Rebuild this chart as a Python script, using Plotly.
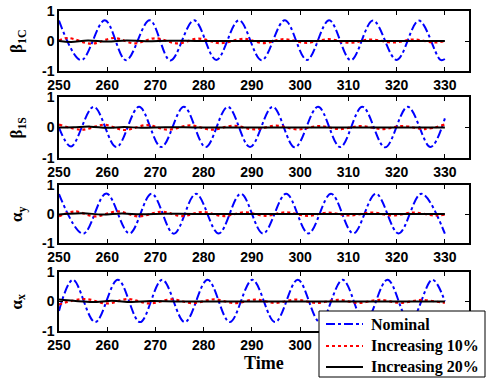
import plotly.graph_objects as go
from plotly.subplots import make_subplots

# ---------------- data ----------------
x_ticks = [250, 260, 270, 280, 290, 300, 310, 320, 330]
y_ticks = [-1, 0, 1]
series_names = ["Nominal", "Increasing 10%", "Increasing 20%"]
panel_labels = ["<b>β<sub>1C</sub></b>", "<b>β<sub>1S</sub></b>",
                "<b>α<sub>y</sub></b>", "<b>α<sub>x</sub></b>"]

# Panel 1: beta_1C
b1c_nom_t = [250, 254.6, 259.5, 263.9, 268.8, 273.1, 278.0, 282.6, 287.3, 292.0, 296.8,
             301.4, 306.0, 310.5, 315.1, 320.0, 324.6, 329.1, 330]
b1c_nom_v = [0.68, -0.64, 0.69, -0.64, 0.69, -0.65, 0.69, -0.63, 0.69, -0.64, 0.69,
             -0.63, 0.69, -0.64, 0.68, -0.63, 0.68, -0.63, -0.6]
b1c_r10_t = [250, 251.9, 256.7, 261.4, 265.7, 269.9, 274.6, 278.9, 283.4, 288.4, 292.3,
             296.6, 301.3, 305.9, 310.3, 314.6, 319.4, 323.6, 327.8, 330]
b1c_r10_v = [0.02, 0.1, -0.09, 0.1, -0.08, 0.09, -0.08, 0.08, -0.07, 0.07, -0.07,
             0.06, -0.06, 0.06, -0.06, 0.05, -0.05, 0.05, -0.05, 0.0]
b1c_r20_t = [250, 252.5, 256, 260, 264, 268, 273, 280, 330]
b1c_r20_v = [0.0, -0.03, 0.02, -0.02, 0.02, -0.01, 0.01, 0.0, 0.0]

# Panel 2: beta_1S
b1s_nom_t = [250, 252.5, 257.2, 261.9, 266.6, 271.2, 275.9, 280.4, 285.0, 289.6, 294.3,
             298.9, 303.7, 308.3, 312.9, 317.6, 322.3, 327.0, 330]
b1s_nom_v = [0.0, -0.62, 0.68, -0.64, 0.68, -0.64, 0.68, -0.64, 0.68, -0.64, 0.68,
             -0.65, 0.68, -0.64, 0.68, -0.65, 0.68, -0.64, 0.3]
b1s_r10_t = [250, 254.8, 259.3, 263.6, 268.2, 272.6, 277.2, 281.6, 286.2, 290.5, 295.0,
             299.5, 303.9, 308.2, 312.6, 317.0, 321.3, 325.8, 330]
b1s_r10_v = [0.1, -0.07, 0.09, -0.08, 0.08, -0.07, 0.07, -0.07, 0.06, -0.06, 0.06,
             -0.06, 0.05, -0.05, 0.05, -0.05, 0.05, -0.05, 0.1]
b1s_r20_t = [250, 253, 256.5, 260, 263.5, 267, 272, 280, 330]
b1s_r20_v = [0.0, 0.01, 0.03, -0.01, 0.02, -0.01, 0.01, 0.0, 0.0]

# Panel 3: alpha_y
ay_nom_t = [250, 255.0, 259.8, 264.6, 269.2, 273.8, 278.4, 283.1, 287.7, 292.3, 297.1,
            301.7, 306.4, 311.0, 315.7, 320.4, 325.1, 330]
ay_nom_v = [0.69, -0.68, 0.71, -0.67, 0.70, -0.68, 0.70, -0.67, 0.70, -0.67, 0.70,
            -0.67, 0.70, -0.67, 0.70, -0.67, 0.70, -0.68]
ay_r10_t = [250, 253.3, 257.4, 262.2, 266.4, 271.3, 275.5, 279.7, 284.2, 288.5, 292.8,
            297.0, 301.5, 305.8, 310.2, 314.8, 319.2, 323.5, 328.0, 330]
ay_r10_v = [-0.08, 0.09, -0.08, 0.09, -0.08, 0.08, -0.07, 0.07, -0.07, 0.06, -0.06,
            0.06, -0.06, 0.05, -0.05, 0.05, -0.05, 0.05, -0.05, -0.02]
ay_r20_t = [250, 252, 255, 259, 263, 267, 272, 278, 330]
ay_r20_v = [-0.02, 0.01, 0.03, -0.02, 0.02, -0.01, 0.01, 0.0, 0.0]

# Panel 4: alpha_x
ax_nom_t = [250, 252.9, 257.5, 262.2, 266.8, 271.4, 276.1, 280.8, 285.4, 290.1, 294.8,
            299.5, 304.1, 308.8, 313.4, 318.1, 322.7, 327.4, 330]
ax_nom_v = [-0.32, 0.73, -0.70, 0.73, -0.70, 0.73, -0.70, 0.73, -0.70, 0.73, -0.70,
            0.73, -0.70, 0.73, -0.70, 0.73, -0.70, 0.73, 0.0]
ax_r10_t = [250, 255.3, 260.0, 264.3, 268.7, 273.4, 277.7, 282.2, 286.4, 290.6, 294.8,
            299.0, 303.4, 307.8, 312.1, 316.5, 320.8, 325.2, 329.5, 330]
ax_r10_v = [-0.1, 0.08, -0.07, 0.08, -0.07, 0.07, -0.06, 0.07, -0.06, 0.06, -0.05,
            0.06, -0.05, 0.05, -0.05, 0.05, -0.05, 0.05, -0.04, -0.04]
ax_r20_t = [250, 253, 257, 261, 265, 269, 274, 280, 330]
ax_r20_v = [0.06, 0.02, -0.02, 0.02, -0.02, 0.01, 0.0, 0.0, 0.0]

panels = [
    [(b1c_nom_t, b1c_nom_v), (b1c_r10_t, b1c_r10_v), (b1c_r20_t, b1c_r20_v)],
    [(b1s_nom_t, b1s_nom_v), (b1s_r10_t, b1s_r10_v), (b1s_r20_t, b1s_r20_v)],
    [(ay_nom_t, ay_nom_v), (ay_r10_t, ay_r10_v), (ay_r20_t, ay_r20_v)],
    [(ax_nom_t, ax_nom_v), (ax_r10_t, ax_r10_v), (ax_r20_t, ax_r20_v)],
]

# ---------------- styling ----------------
styles = [dict(color="#0000FF", dash="dashdot", width=2),
          dict(color="#FF0000", dash="dot", width=2.2),
          dict(color="#000000", dash="solid", width=2)]

domains = [[0.8125, 1.0], [0.5406, 0.731], [0.275, 0.456], [0.0, 0.185]]

fig = make_subplots(rows=4, cols=1)

for i, panel in enumerate(panels):
    for j, (t, v) in enumerate(panel):
        fig.add_trace(go.Scatter(
            x=t, y=v, mode="lines", name=series_names[j],
            line=dict(shape="spline", smoothing=1.0, **styles[j]),
            showlegend=False, legendgroup=series_names[j]),
            row=i + 1, col=1)

tickfont = dict(family="Liberation Sans", size=14, color="black", weight="bold")
for i in range(4):
    xa = "xaxis" if i == 0 else f"xaxis{i+1}"
    ya = "yaxis" if i == 0 else f"yaxis{i+1}"
    fig.layout[xa].update(
        range=[250, 335], tickvals=x_ticks, ticktext=[str(v) for v in x_ticks],
        ticks="inside", ticklen=4, tickwidth=1, tickcolor="black",
        showline=True, linecolor="black", linewidth=1.5, mirror="allticks",
        showgrid=False, zeroline=False, tickfont=tickfont, automargin=False)
    fig.layout[ya].update(
        domain=domains[i], range=[-1, 1], tickvals=y_ticks,
        ticktext=[str(v) for v in y_ticks],
        ticks="inside", ticklen=4, tickwidth=1, tickcolor="black",
        showline=True, linecolor="black", linewidth=1.5, mirror="allticks",
        showgrid=False, zeroline=False, tickfont=tickfont, automargin=False)
    fig.add_annotation(
        text=panel_labels[i], xref="paper", yref="paper",
        x=-0.1, y=(domains[i][0] + domains[i][1]) / 2,
        xanchor="center", yanchor="middle", textangle=-90, showarrow=False,
        font=dict(family="Liberation Serif", size=17, color="black", weight="bold"))

fig.add_annotation(
    text="<b>Time</b>", xref="paper", yref="paper", x=0.5, y=-0.1,
    xanchor="center", yanchor="middle", showarrow=False,
    font=dict(family="Liberation Serif", size=18, color="black"))

# ---- legend box (framed key in the lower right) ----
W, H = 486, 378

fig.add_shape(type="rect", xref="paper", yref="paper",
              x0=(319 - 59) / 410, x1=(485 - 59) / 410,
              y0=(331 - 377) / 320, y1=(331 - 311) / 320,
              fillcolor="white", line=dict(color="black", width=1), layer="above")
legend_rows_px = [324, 346, 367]
for j, name in enumerate(series_names):
    ypap = (331 - legend_rows_px[j]) / 320
    fig.add_shape(type="line", xref="paper", yref="paper",
                  x0=(326 - 59) / 410, x1=(363 - 59) / 410, y0=ypap, y1=ypap,
                  line=dict(color=styles[j]["color"], dash=styles[j]["dash"],
                            width=styles[j]["width"]), layer="above")
    fig.add_annotation(text=name, xref="paper", yref="paper",
                       x=(369 - 59) / 410, y=ypap, xanchor="left", yanchor="middle",
                       showarrow=False,
                       font=dict(family="Liberation Serif", size=16, color="black",
                                 weight="bold"))

fig.update_layout(
    width=W, height=H,
    margin=dict(l=59, r=17, t=11, b=47, autoexpand=False),
    paper_bgcolor="white", plot_bgcolor="white",
    showlegend=False,
)

fig.write_html("out.html")
